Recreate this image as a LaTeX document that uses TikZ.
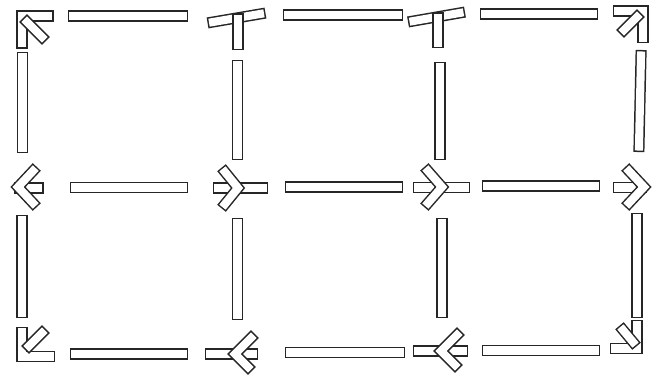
\documentclass[tikz,border=0pt]{standalone}
\usepackage{tikz}

\tikzset{
  stick/.style={draw=black!85, line width=6.3pt, line cap=rect, line join=miter},
  stickhole/.style={draw=white, line width=4.6pt, line cap=rect, line join=miter},
}
% one hollow match along a path
\newcommand{\matchstick}[1]{\draw[stick] #1; \draw[stickhole] #1;}

\begin{document}
\begin{tikzpicture}[x=0.02cm, y=-0.02cm]
  \useasboundingbox (0,0) rectangle (655,376);

  % Horizontal sticks
  \foreach \xa/\xb/\yy in {73.5/182.5/16, 288.5/397.5/15, 485.5/592.5/14,
                           75.5/182.5/187.5, 290.5/397.5/187, 487.5/594.5/186,
                           75.5/182.5/354, 290.5/399.5/352.5, 487.5/594.5/350.5} {
    \matchstick{(\xa,\yy) -- (\xb,\yy)}
  }

  % Vertical sticks
  \foreach \xx/\ya/\yb in {22.5/57.5/147.5, 237.5/65.5/154.5, 440/67.5/154.5,
                           22/220.5/312.5, 237.5/223.5/314.5, 442/223.5/312.5, 637/218.5/312.5} {
    \matchstick{(\xx,\ya) -- (\xx,\yb)}
  }
  \matchstick{(641,55.5) -- (639,146.5)}

  % Corners
  \matchstick{(22,43) -- (22,16) -- (48,16)}
  \matchstick{(42,37) -- (27,22)}
  \matchstick{(618.5,11) -- (643,11) -- (643,37.5)}
  \matchstick{(624,30) -- (637,17)}
  \matchstick{(22,332.5) -- (22,356.5) -- (49.5,356.5)}
  \matchstick{(29,346) -- (42,333)}
  \matchstick{(615.5,348.5) -- (637,348.5) -- (637,325.5)}
  \matchstick{(623,330) -- (633,342)}

  % Top tees
  \matchstick{(213,22) -- (260,14)}
  \matchstick{(238,19) -- (238,44.5)}
  \matchstick{(413.5,21) -- (459.5,13)}
  \matchstick{(438,18) -- (438,42.5)}

  % Middle arrows
  \matchstick{(20,188) -- (38,188)}
  \matchstick{(33,171) -- (18,187) -- (33,203)}
  \matchstick{(218.5,188) -- (262.5,188)}
  \matchstick{(225,172) -- (238,188) -- (225,204)}
  \matchstick{(418.5,187.5) -- (464.5,187.5)}
  \matchstick{(428,171) -- (442,187) -- (428,203)}
  \matchstick{(618.5,187.5) -- (641.5,187.5)}
  \matchstick{(629,171) -- (644,187) -- (629,203)}

  % Bottom arrows
  \matchstick{(210.5,354) -- (252.5,354)}
  \matchstick{(251,338) -- (235,354) -- (248,367)}
  \matchstick{(418.5,351) -- (462.5,351)}
  \matchstick{(457,335) -- (441,351) -- (455,365)}
\end{tikzpicture}
\end{document}
